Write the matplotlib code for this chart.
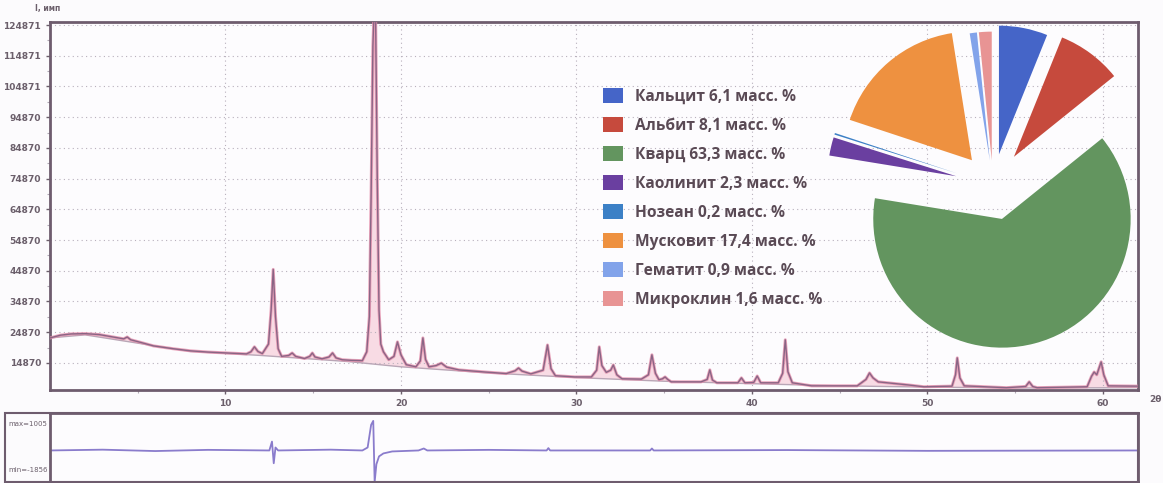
import matplotlib.pyplot as plt
from matplotlib.patches import Rectangle
import numpy as np

plt.rcParams['font.family'] = ['Open Sans', 'DejaVu Sans']

# observed pattern: 2theta (deg) and intensity (imp)
two_theta = [0.0, 0.6, 1.2, 2.0, 2.8, 3.6, 4.2, 4.4, 4.6, 5.2, 5.9, 7.0, 8.0, 9.0, 10.1,
             11.2, 11.45, 11.65, 11.85, 12.1, 12.45, 12.6, 12.72, 12.85, 13.0, 13.2, 13.6,
             13.8, 14.0, 14.5, 14.8, 14.95, 15.1, 15.5, 15.9, 16.1, 16.3, 16.65, 17.2, 17.8,
             18.05, 18.2, 18.3, 18.4, 18.47, 18.55, 18.65, 18.75, 18.85, 19.0, 19.3, 19.6,
             19.8, 20.0, 20.3, 20.85, 21.1, 21.25, 21.4, 21.6, 22.0, 22.3, 22.6, 23.3, 24.8,
             26.0, 26.5, 26.7, 26.9, 27.4, 28.1, 28.35, 28.55, 28.8, 29.9, 30.85, 31.15, 31.3,
             31.45, 31.7, 31.95, 32.1, 32.3, 32.6, 33.7, 34.1, 34.3, 34.5, 34.7, 34.9, 35.05,
             35.2, 35.4, 37.1, 37.45, 37.6, 37.75, 38.0, 39.2, 39.4, 39.6, 40.1, 40.3, 40.5,
             41.5, 41.75, 41.9, 42.05, 42.3, 43.4, 46.0, 46.5, 46.7, 46.9, 47.2, 48.9, 49.8,
             51.4, 51.6, 51.7, 51.85, 52.1, 54.5, 55.6, 55.8, 56.0, 56.25, 59.1, 59.35, 59.5,
             59.65, 59.8, 59.9, 60.05, 60.3, 62.0]
intensity = [23000, 23900, 24300, 24400, 24100, 23300, 22700, 23300, 22400, 21500, 20400,
             19500, 18800, 18400, 18100, 17800, 18500, 20100, 18600, 17900, 21000, 32000,
             45300, 30000, 19500, 17000, 17300, 18100, 17000, 16300, 17000, 18100, 16800,
             16200, 16800, 18100, 16500, 15900, 15700, 15600, 18500, 30000, 70000, 118000,
             130000, 130000, 75000, 32000, 21000, 18500, 15900, 17000, 21700, 17500, 14300,
             13600, 15500, 23000, 16000, 13600, 14000, 14800, 13500, 12600, 11900, 11400,
             12300, 13200, 12200, 11300, 12500, 20700, 13000, 10700, 10300, 10300, 12500,
             20100, 14000, 11800, 12500, 14200, 11000, 9700, 9600, 11000, 17500, 11500, 9400,
             9700, 10300, 9500, 8700, 8700, 9500, 12600, 9300, 8400, 8400, 10000, 8400, 8500,
             10600, 8400, 8400, 11500, 22400, 12000, 8400, 7400, 7400, 9500, 11600, 10000,
             8700, 7700, 7100, 7300, 11000, 16500, 10000, 7400, 6800, 7200, 8700, 7200, 6800,
             7100, 10500, 11900, 11000, 13500, 15200, 11000, 7400, 7300]

# fitted background
bg_theta = [0.0, 2.0, 5.0, 8.0, 12.0, 17.0, 20.0, 25.0, 30.0, 35.0, 40.0, 45.0, 50.0, 55.0, 62.0]
bg_int = [23000, 24000, 21300, 18600, 17300, 15300, 13600, 11600, 10100, 8900, 8100, 7400,
          7000, 6700, 6800]

# difference curve
diff_theta = [0.0, 3.0, 6.0, 9.0, 12.5, 12.65, 12.75, 12.85, 13.0, 16.0, 17.8, 18.1, 18.3,
              18.42, 18.5, 18.6, 18.75, 19.0, 19.5, 21.0, 21.3, 21.5, 25.0, 28.3, 28.4, 28.5,
              34.2, 34.3, 34.4, 42.0, 50.0, 62.0]
diff_val = [0, 40, -30, 30, 0, 450, -650, 150, 0, 40, 0, 150, 1300, 1500, -1600, -700, -300,
            -150, -50, 0, 100, 0, 30, 0, 120, 0, 0, 100, 0, 20, -20, 0]

yticks = [14870, 24870, 34870, 44870, 54870, 64870, 74870, 84870, 94870, 104871, 114871, 124871]
xticks = [10, 20, 30, 40, 50, 60]

phases = ['Кальцит', 'Альбит', 'Кварц', 'Каолинит', 'Нозеан', 'Мусковит', 'Гематит', 'Микроклин']
mass = [6.1, 8.1, 63.3, 2.3, 0.2, 17.4, 0.9, 1.6]
mass_lbl = ['6,1', '8,1', '63,3', '2,3', '0,2', '17,4', '0,9', '1,6']
phase_colors = ['#4565c8', '#c64a3d', '#63955f', '#6a3fa0', '#3c80c6', '#ee9140', '#82a3ea', '#e89494']
explode = [0.24, 0.27, 0.27, 0.29, 0.29, 0.25, 0.19, 0.19]

W, H = 1163, 483
fig = plt.figure(figsize=(W / 100, H / 100), dpi=100)
fig.patch.set_facecolor('#fcfbfd')

spine_c = '#6e5c6e'
ax = fig.add_axes([50 / W, 1 - 390 / H, 1088 / W, 368 / H])
ax.set_facecolor('#fdfcfe')
ax.fill(two_theta + bg_theta[::-1], intensity + bg_int[::-1], color='#f2b3c6', alpha=0.45, lw=0, zorder=1)
ax.plot(bg_theta, bg_int, color='#b9a6b6', lw=1.0, zorder=2)
ax.plot(two_theta, intensity, color='#e58eab', lw=2.2, alpha=0.8, zorder=3)
ax.plot(two_theta, intensity, color='#8a6585', lw=1.0, zorder=4)
ax.set_xlim(0, 62)
ax.set_ylim(6050, 125850)
ax.set_yticks(yticks)
ax.set_yticklabels([str(v) for v in yticks])
ax.set_yticks([v + 5000 for v in yticks[:-1]], minor=True)
ax.set_xticks(xticks)
ax.set_xticks([5, 15, 25, 35, 45, 55], minor=True)
ax.grid(True, which='major', ls=(0, (1, 3)), color='#b8b0bc', lw=0.8)
for s in ax.spines.values():
    s.set_color(spine_c)
    s.set_linewidth(2)
ax.tick_params(axis='both', which='major', labelsize=6.5, colors='#6b5f6b', length=3, width=1)
ax.tick_params(axis='both', which='minor', length=2, width=0.8, colors='#b0a8b4')
for lab in ax.get_xticklabels() + ax.get_yticklabels():
    lab.set_fontweight('bold')
    lab.set_family('DejaVu Sans')
fig.text(48 / W, 1 - 8 / H, 'I, имп', fontsize=5.5, color='#6b5f6b', ha='center', va='center',
         fontweight='bold', family='DejaVu Sans')
fig.text(1155 / W, 1 - 400 / H, '2θ', fontsize=6.5, color='#6b5f6b', ha='center', va='center',
         fontweight='bold', family='DejaVu Sans')

# difference panel
axd = fig.add_axes([50 / W, 1 / H, 1088 / W, 69 / H])
axd.set_facecolor('#fdfcfe')
axd.plot(diff_theta, diff_val, color='#8a7ccc', lw=1.3)
axd.set_xlim(0, 62)
axd.set_ylim(-1600, 1900)
axd.set_xticks([])
axd.set_yticks([])
for s in axd.spines.values():
    s.set_color(spine_c)
    s.set_linewidth(2)
fig.patches.append(Rectangle((5 / W, 1 / H), 1133 / W, 69 / H, transform=fig.transFigure,
                             fill=False, ec=spine_c, lw=1.5))
fig.text(8 / W, 1 - 424 / H, 'max=1005', fontsize=5, color='#6b5f6b', va='center', family='DejaVu Sans')
fig.text(8 / W, 1 - 470 / H, 'min=-1856', fontsize=5, color='#6b5f6b', va='center', family='DejaVu Sans')

# phase composition pie
axp = fig.add_axes([823 / W, 1 - 355 / H, 340 / W, 340 / H])
wedges, _ = axp.pie(mass, colors=phase_colors, startangle=90, counterclock=False,
                    explode=explode, radius=0.99, wedgeprops=dict(lw=0))
axp.set_xlim(-1.3077, 1.3077)
axp.set_ylim(-1.3077, 1.3077)
axp.axis('off')

labels = [f'{p} {m} масс. %' for p, m in zip(phases, mass_lbl)]
fig.legend(wedges, labels, loc='upper left', bbox_to_anchor=(603 / W, 1 - 88 / H), frameon=False,
           handlelength=1.28, handleheight=1.07, handletextpad=0.77,
           labelspacing=0.8, borderpad=0, borderaxespad=0,
           prop=dict(family='Open Sans', weight='bold', size=11.2), labelcolor='#5a4a55')

fig.savefig('out.png', dpi=100, facecolor=fig.get_facecolor())
